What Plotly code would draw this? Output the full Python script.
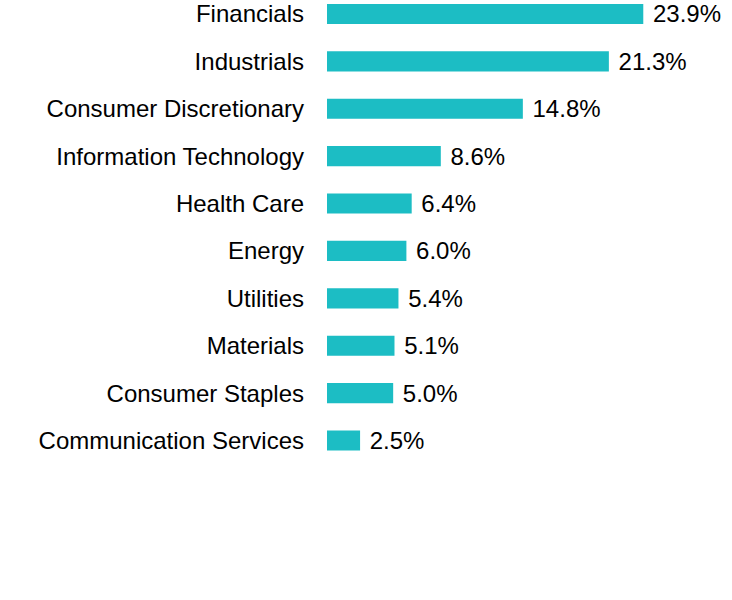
import plotly.graph_objects as go

categories = ["Financials", "Industrials", "Consumer Discretionary", "Information Technology",
              "Health Care", "Energy", "Utilities", "Materials", "Consumer Staples",
              "Communication Services"]
values = [23.9, 21.3, 14.8, 8.6, 6.4, 6.0, 5.4, 5.1, 5.0, 2.5]
labels = [f"\u00a0{v:.1f}%" for v in values]

fig = go.Figure(go.Bar(
    x=values, y=categories, orientation="h",
    marker=dict(color="#1CBDC4", line=dict(width=0)),
    text=labels, textposition="outside", constraintext="none",
    textfont=dict(family="Liberation Sans, Arial", size=24, color="#000000"),
    cliponaxis=False, width=0.425, hoverinfo="skip",
))

fig.update_layout(
    width=732, height=600,
    margin=dict(l=327, r=8, t=0, b=122),
    paper_bgcolor="white", plot_bgcolor="white",
    showlegend=False,
    font=dict(family="Liberation Sans, Arial", size=24, color="#000000"),
    xaxis=dict(range=[0, 30], visible=False),
    yaxis=dict(range=[9.791, -0.209], categoryorder="array", categoryarray=categories,
               showgrid=False, showline=False, ticks="", ticklabelstandoff=22,
               tickfont=dict(size=24)),
)

fig.write_html("out.html", config={"displayModeBar": False},
               post_script="document.body.style.margin='0';")
